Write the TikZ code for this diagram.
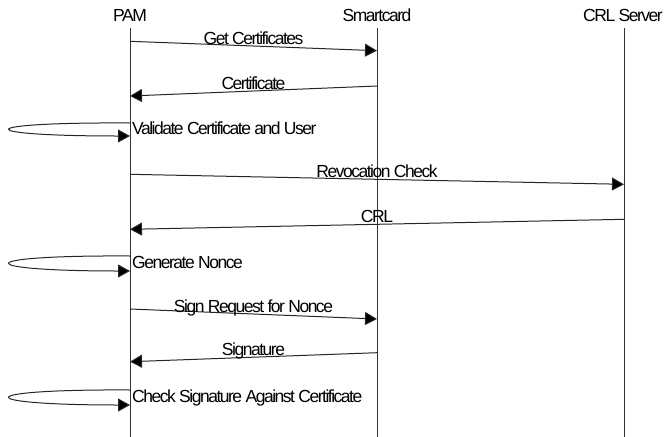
\documentclass[tikz,border=0pt]{standalone}
\usepackage{fontspec}
\setmainfont[LetterSpace=-8.5]{Liberation Sans}
\usetikzlibrary{arrows.meta}
\begin{document}
\begin{tikzpicture}[x=1pt,y=-1pt,
  lbl/.style={font=\fontsize{17.5}{20}\selectfont, inner sep=0pt, text=black},
  mlbl/.style={lbl, midway, anchor=base, yshift=1.5pt},
  msg/.style={draw=black!85, line width=1pt, -{Triangle[length=12pt,width=13pt,fill=black]}},
  life/.style={draw=black!80, line width=1pt}]
\useasboundingbox (0,0) rectangle (665,437);
% participants
\node[lbl] (pam) at (130,15) {PAM};
\node[lbl] (sc) at (377,15) {Smartcard};
\node[lbl] (crl) at (623,15) {CRL Server};
\coordinate (pamtop) at (130,28);
\coordinate (pambot) at (130,437);
\coordinate (sctop) at (377,28);
\coordinate (scbot) at (377,437);
\coordinate (crltop) at (624,28);
\coordinate (crlbot) at (624,437);
\draw[life] (pamtop) -- (pambot);
\draw[life] (sctop) -- (scbot);
\draw[life] (crltop) -- (crlbot);
% messages
\coordinate (m1s) at (130,41.3);
\coordinate (m1e) at (377,50.7);
\draw[msg] (m1s) -- node[mlbl] {Get Certificates} (m1e);
\coordinate (m2s) at (377,86);
\coordinate (m2e) at (130,96);
\draw[msg] (m2s) -- node[mlbl] {Certificate} (m2e);
\coordinate (l1s) at (130,123);
\coordinate (l1e) at (130,136);
\draw[msg] (l1s) .. controls (-30,122) and (-30,136) .. (l1e);
\node[lbl, anchor=base west] (l1t) at (132,134) {Validate Certificate and User};
\coordinate (m3s) at (130,174.3);
\coordinate (m3e) at (624,184.3);
\draw[msg] (m3s) -- node[mlbl] {Revocation Check} (m3e);
\coordinate (m4s) at (624,219.3);
\coordinate (m4e) at (130,229.3);
\draw[msg] (m4s) -- node[mlbl] {CRL} (m4e);
\coordinate (l2s) at (130,256);
\coordinate (l2e) at (130,271);
\draw[msg] (l2s) .. controls (-30,255) and (-30,271) .. (l2e);
\node[lbl, anchor=base west] (l2t) at (132,268) {Generate Nonce};
\coordinate (m5s) at (130,309);
\coordinate (m5e) at (377,319);
\draw[msg] (m5s) -- node[mlbl] {Sign Request for Nonce} (m5e);
\coordinate (m6s) at (377,352.7);
\coordinate (m6e) at (130,361.7);
\draw[msg] (m6s) -- node[mlbl] {Signature} (m6e);
\coordinate (l3s) at (130,390);
\coordinate (l3e) at (130,405);
\draw[msg] (l3s) .. controls (-30,389) and (-30,405) .. (l3e);
\node[lbl, anchor=base west] (l3t) at (132,402) {Check Signature Against Certificate};
\end{tikzpicture}
\end{document}
